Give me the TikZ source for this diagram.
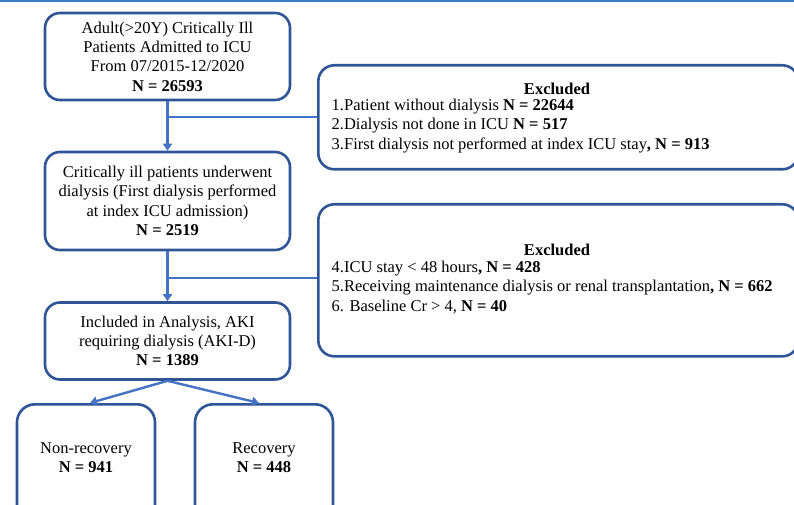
\documentclass[tikz,border=0pt]{standalone}
\usepackage{fontspec}
\setmainfont{Liberation Serif}
\usetikzlibrary{arrows.meta,calc}
\definecolor{boxblue}{HTML}{2F5597}
\definecolor{linkblue}{HTML}{4472C4}
\definecolor{topblue}{HTML}{3D7CC4}
\tikzset{
  mainbox/.style={draw=boxblue, line width=2.6bp, rounded corners=15bp, fill=white,
    minimum width=245bp, align=center, inner sep=0pt,
    font=\fontsize{16.5bp}{19.3bp}\selectfont},
  exbox/.style={draw=boxblue, line width=2.6bp, rounded corners=16bp, fill=white, inner sep=0pt},
  outbox/.style={draw=boxblue, line width=2.6bp, rounded corners=18bp, fill=white,
    minimum width=138bp, minimum height=120bp, inner sep=0pt},
  txt/.style={inner sep=0pt, font=\fontsize{16.5bp}{19.3bp}\selectfont},
  link/.style={draw=linkblue, line width=2.4bp},
  arr/.style={link, -{Triangle[length=7bp,width=9bp]}}
}
\begin{document}
\begin{tikzpicture}[x=1bp,y=-1bp]
\useasboundingbox (0,0) rectangle (794,505);
\clip (0,0) rectangle (794,505);
\fill[white] (0,0) rectangle (794,505);
\draw[topblue, line width=3bp] (0,1) -- (794,1);

% main column
\node[mainbox, minimum height=87bp] (b1) at (167.5,56.5)
  {Adult(>20Y) Critically Ill\\Patients Admitted to ICU\\From 07/2015-12/2020\\\textbf{N = 26593}};
\node[mainbox, minimum height=98bp] (b3) at (167.5,201)
  {Critically ill patients underwent\\dialysis (First dialysis performed\\at index ICU admission)\\\textbf{N = 2519}};
\node[mainbox, minimum height=77bp] (b5) at (167.5,341)
  {Included in Analysis, AKI\\requiring dialysis (AKI-D)\\\textbf{N = 1389}};

% exclusion boxes
\node[exbox, minimum width=480bp, minimum height=104bp, anchor=north west] (exA) at (317,64) {};
\node[txt] (exAh) at (557,88.5) {\textbf{Excluded}};
\node[txt, align=left, anchor=north west] (exAt) at (331.5,99) {1.Patient without dialysis \textbf{N = 22644}\\2.Dialysis not done in ICU \textbf{N = 517}\\3.First dialysis not performed at index ICU stay\textbf{, N = 913}};

\node[exbox, minimum width=480bp, minimum height=152bp, anchor=north west] (exB) at (317,203) {};
\node[txt] (exBh) at (557,250) {\textbf{Excluded}};
\node[txt, align=left, anchor=north west] (exBt) at (331.5,261) {4.ICU stay < 48 hours\textbf{, N = 428}\\5.Receiving maintenance dialysis or renal transplantation\textbf{, N = 662}\\6. Baseline Cr > 4, \textbf{N = 40}};

% outcome boxes
\node[outbox, anchor=north] (b6) at (86,403) {};
\node[txt, align=center] (b6t) at (86,457.5) {Non-recovery\\\textbf{N = 941}};
\node[outbox, anchor=north] (b7) at (264,403) {};
\node[txt, align=center] (b7t) at (264,457.5) {Recovery\\\textbf{N = 448}};

% connectors
\coordinate (j1) at (b1.south |- 0,117);
\coordinate (j2) at (b3.south |- 0,278);
\draw[arr] (b1.south) -- (b3.north);
\draw[link] (j1) -- (j1 -| exA.west);
\draw[arr] (b3.south) -- (b5.north);
\draw[link] (j2) -- (j2 -| exB.west);
\draw[arr] (b5.south) -- ([xshift=4bp]b6.north);
\draw[arr] (b5.south) -- ([xshift=-5bp]b7.north);
\end{tikzpicture}
\end{document}
